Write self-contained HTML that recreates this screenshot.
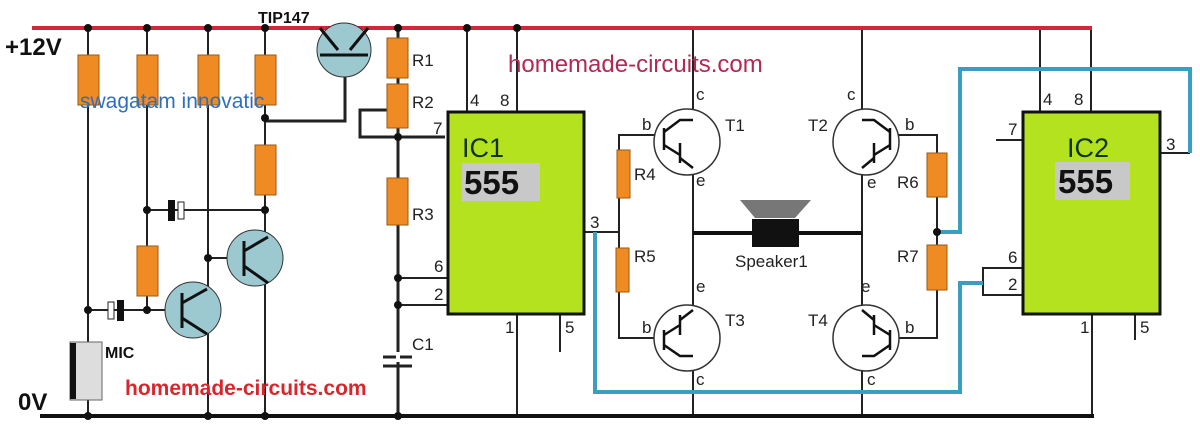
<!DOCTYPE html>
<html><head><meta charset="utf-8"><style>
html,body{margin:0;padding:0;background:#fff;width:1200px;height:432px;overflow:hidden}
svg{display:block}
text{font-family:"Liberation Sans",sans-serif}
</style></head><body>
<svg width="1200" height="432" viewBox="0 0 1200 432" xmlns="http://www.w3.org/2000/svg">
<g stroke="#222" stroke-width="2" fill="none">
<line x1="88" y1="28" x2="88" y2="415"/>
<line x1="147" y1="28" x2="147" y2="310"/>
<line x1="208" y1="28" x2="208" y2="415"/>
<line x1="265" y1="28" x2="265" y2="415"/>
<line x1="88" y1="310" x2="165" y2="310"/>
<line x1="147" y1="210" x2="265" y2="210"/>
<line x1="208" y1="258" x2="228" y2="258"/>
<polyline points="265,121 345,121 345,75" stroke-width="3"/>
<line x1="398" y1="28" x2="398" y2="415" stroke-width="3"/>
<polyline points="387,110 360,110 360,137 445,137" stroke-width="3"/>
<line x1="398" y1="278" x2="448" y2="278"/>
<line x1="398" y1="305" x2="448" y2="305"/>
<line x1="467" y1="28" x2="467" y2="112"/>
<line x1="517" y1="28" x2="517" y2="112"/>
<line x1="517" y1="314" x2="517" y2="415"/>
<line x1="560" y1="314" x2="560" y2="352"/>
<line x1="584" y1="232" x2="619" y2="232"/>
<polyline points="655,135 619,135 619,338 655,338"/>
<line x1="693" y1="28" x2="693" y2="415"/>
<line x1="862" y1="28" x2="862" y2="415"/>
<polyline points="898,135 937,135 937,338 898,338"/>
<line x1="1040" y1="28" x2="1040" y2="112"/>
<line x1="1091" y1="28" x2="1091" y2="112"/>
<line x1="996" y1="140" x2="1023" y2="140"/>
<rect x="983" y="268" width="40" height="27"/>
<line x1="1092" y1="314" x2="1092" y2="417"/>
<line x1="1135" y1="314" x2="1135" y2="340"/>
<line x1="1160" y1="153" x2="1190" y2="153"/>
</g>
<line x1="32" y1="28" x2="1092" y2="28" stroke="#d0283a" stroke-width="4"/>
<line x1="40" y1="416" x2="1094" y2="416" stroke="#111" stroke-width="4"/>
<line x1="693" y1="233" x2="862" y2="233" stroke="#111" stroke-width="4"/>
<polygon points="740,200 811,200 795,218 755,218" fill="#777"/>
<rect x="752" y="219" width="47" height="28" fill="#111"/>
<g stroke="#3a9ec0" stroke-width="4" fill="none">
<polyline points="595,232 595,392 960,392 960,283 983,283"/>
<polyline points="937,232 960,232 960,69 1190,69 1190,153"/>
</g>
<g fill="#f08a22" stroke="#9a5a10" stroke-width="1">
<rect x="78" y="55" width="21" height="50"/>
<rect x="137" y="55" width="21" height="50"/>
<rect x="198" y="55" width="21" height="50"/>
<rect x="255" y="55" width="21" height="50"/>
<rect x="255" y="145" width="21" height="50"/>
<rect x="137" y="246" width="21" height="50"/>
<rect x="387" y="38" width="21" height="40"/>
<rect x="387" y="84" width="21" height="44"/>
<rect x="387" y="178" width="21" height="47"/>
<rect x="617" y="150" width="13" height="48"/>
<rect x="616" y="248" width="13" height="44"/>
<rect x="927" y="153" width="20" height="44"/>
<rect x="927" y="245" width="20" height="45"/>
</g>
<rect x="108" y="302" width="6" height="17" fill="#fff" stroke="#222"/>
<rect x="117" y="300" width="7" height="21" fill="#111"/>
<rect x="168" y="200" width="7" height="21" fill="#111"/>
<rect x="178" y="202" width="6" height="17" fill="#fff" stroke="#222"/>
<line x1="383" y1="357" x2="412" y2="357" stroke="#222" stroke-width="3"/>
<line x1="383" y1="366" x2="412" y2="366" stroke="#222" stroke-width="3"/>
<rect x="396" y="352" width="4" height="10" fill="#fff"/>
<rect x="70" y="342" width="32" height="58" fill="#ddd" stroke="#666"/>
<rect x="70" y="343" width="6" height="56" fill="#111"/>
<g fill="#9cc8d0" stroke="#333" stroke-width="1">
<circle cx="193" cy="310" r="28"/>
<circle cx="255" cy="258" r="28"/>
<circle cx="344" cy="50" r="27"/>
</g>
<g stroke="#111" stroke-width="3" fill="none">
<line x1="182" y1="293" x2="182" y2="328"/>
<line x1="182" y1="303" x2="207" y2="289"/>
<line x1="182" y1="318" x2="207" y2="334"/>
<line x1="244" y1="241" x2="244" y2="276"/>
<line x1="244" y1="251" x2="268" y2="237"/>
<line x1="244" y1="266" x2="268" y2="283"/>
<line x1="320" y1="55" x2="368" y2="55"/>
<line x1="320" y1="28" x2="338" y2="50"/>
<line x1="350" y1="50" x2="368" y2="28"/>
</g>
<g fill="#fff" stroke="#333" stroke-width="1.5">
<circle cx="687" cy="142" r="33"/>
<circle cx="687" cy="338" r="33"/>
<circle cx="866" cy="142" r="33"/>
<circle cx="866" cy="338" r="33"/>
</g>
<g stroke="#111" stroke-width="2.5" fill="none">
<line x1="664" y1="128" x2="664" y2="150"/><polyline points="664,132 680,120 693,120"/><line x1="664" y1="145" x2="680" y2="155"/><line x1="680" y1="143" x2="680" y2="163"/><line x1="680" y1="158" x2="693" y2="168"/>
<line x1="664" y1="330" x2="664" y2="350"/><polyline points="664,345 680,356 693,356"/><line x1="664" y1="335" x2="680" y2="325"/><line x1="680" y1="315" x2="680" y2="335"/><line x1="680" y1="320" x2="693" y2="310"/>
<line x1="890" y1="128" x2="890" y2="150"/><polyline points="890,132 874,120 862,120"/><line x1="890" y1="145" x2="874" y2="155"/><line x1="874" y1="143" x2="874" y2="163"/><line x1="874" y1="158" x2="862" y2="168"/>
<line x1="890" y1="330" x2="890" y2="350"/><polyline points="890,345 874,356 862,356"/><line x1="890" y1="335" x2="874" y2="325"/><line x1="874" y1="315" x2="874" y2="335"/><line x1="874" y1="320" x2="862" y2="310"/>
</g>
<rect x="448" y="112" width="136" height="202" fill="#b5e21e" stroke="#111" stroke-width="3"/>
<rect x="462" y="163" width="78" height="38" fill="#c8c8c8"/>
<rect x="1023" y="112" width="137" height="202" fill="#b5e21e" stroke="#111" stroke-width="3"/>
<rect x="1055" y="162" width="75" height="38" fill="#c8c8c8"/>
<g fill="#111">
<circle cx="88" cy="28" r="4"/><circle cx="147" cy="28" r="4"/><circle cx="208" cy="28" r="4"/><circle cx="265" cy="28" r="4"/>
<circle cx="265" cy="118" r="4"/><circle cx="147" cy="210" r="4"/><circle cx="265" cy="210" r="4"/><circle cx="208" cy="258" r="4"/>
<circle cx="88" cy="310" r="4"/><circle cx="147" cy="310" r="4"/>
<circle cx="88" cy="416" r="4"/><circle cx="208" cy="416" r="4"/><circle cx="265" cy="416" r="4"/><circle cx="398" cy="416" r="4"/>
<circle cx="398" cy="28" r="4"/><circle cx="398" cy="137" r="4"/><circle cx="398" cy="278" r="4"/><circle cx="398" cy="305" r="4"/>
<circle cx="467" cy="28" r="4"/><circle cx="517" cy="28" r="4"/><circle cx="937" cy="232" r="4"/>
</g>
<g font-weight="bold" fill="#111">
<text x="5" y="55" font-size="24">+12V</text>
<text x="18" y="410" font-size="24">0V</text>
<text x="258" y="23" font-size="16">TIP147</text>
<text x="105" y="358" font-size="16">MIC</text>
<text x="464" y="194" font-size="33">555</text>
<text x="1058" y="193" font-size="33">555</text>
</g>
<text x="80" y="108" font-size="21" fill="#2f6fbf">swagatam innovatic</text>
<text x="125" y="395" font-size="21" font-weight="bold" fill="#d9262e">homemade-circuits.com</text>
<text x="508" y="72" font-size="24" fill="#b02a52">homemade-circuits.com</text>
<g font-size="17" fill="#222">
<text x="412" y="66">R1</text><text x="412" y="108">R2</text><text x="412" y="220">R3</text><text x="412" y="350">C1</text>
<text x="470" y="106">4</text><text x="500" y="106">8</text><text x="433" y="134">7</text><text x="434" y="272">6</text><text x="434" y="300">2</text>
<text x="505" y="333">1</text><text x="565" y="333">5</text><text x="590" y="228">3</text>
<text x="462" y="157" font-size="27" fill="#113311">IC1</text>
<text x="1067" y="157" font-size="27" fill="#113311">IC2</text>
<text x="1043" y="105">4</text><text x="1074" y="105">8</text><text x="1008" y="135">7</text><text x="1008" y="263">6</text><text x="1008" y="290">2</text>
<text x="1080" y="333">1</text><text x="1140" y="333">5</text><text x="1166" y="150">3</text>
<text x="634" y="180">R4</text><text x="634" y="262">R5</text><text x="897" y="188">R6</text><text x="897" y="262">R7</text>
<text x="696" y="100">c</text><text x="696" y="186">e</text><text x="696" y="292">e</text><text x="696" y="385">c</text>
<text x="847" y="100">c</text><text x="867" y="188">e</text><text x="861" y="292">e</text><text x="867" y="385">c</text>
<text x="642" y="130">b</text><text x="642" y="333">b</text><text x="905" y="130">b</text><text x="905" y="333">b</text>
<text x="725" y="131">T1</text><text x="808" y="131">T2</text><text x="725" y="326">T3</text><text x="808" y="326">T4</text>
<text x="735" y="267">Speaker1</text>
</g>
</svg>
</body></html>
